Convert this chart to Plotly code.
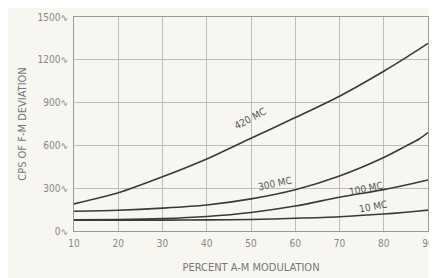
import plotly.graph_objects as go

modulation = [10, 20, 30, 40, 50, 60, 70, 80, 85, 88, 90]
mc420 = [190, 268, 380, 505, 650, 795, 945, 1120, 1215, 1275, 1315]
mc300 = [138, 145, 160, 182, 225, 289, 385, 515, 595, 645, 690]
mc100 = [78, 80, 87, 102, 130, 175, 237, 290, 322, 343, 358]
mc10 = [75, 75, 76, 78, 81, 89, 100, 119, 131, 140, 146]

x_ticks = [10, 20, 30, 40, 50, 60, 70, 80, 90]
y_ticks = [0, 300, 600, 900, 1200, 1500]
y_tick_text = ["0∿", "300∿", "600∿", "900∿", "1200∿", "1500∿"]

labels = [
    ("420 MC", 49.8, 790, -28),
    ("300 MC", 55.4, 330, -12),
    ("100 MC", 76.0, 295, -12),
    ("10 MC", 77.6, 172, -10),
]

FONT = "DejaVu Sans Condensed"
BG = "#f7f6f1"

fig = go.Figure()
for ys in (mc420, mc300, mc100, mc10):
    fig.add_trace(go.Scatter(x=modulation, y=ys, mode="lines",
                             line=dict(color="#3a3a3a", width=1.6, shape="spline", smoothing=0.8),
                             showlegend=False, hoverinfo="skip"))

for text, lx, ly, ang in labels:
    fig.add_annotation(x=lx, y=ly, text=text, showarrow=False, textangle=ang,
                       font=dict(family=FONT, size=10, color="#555555"))

fig.update_layout(
    width=429, height=270,
    margin=dict(l=66, r=9, t=3, b=47),
    paper_bgcolor=BG, plot_bgcolor=BG,
    font=dict(family=FONT, size=9, color="#888888"),
    xaxis=dict(range=[10, 90], tickvals=x_ticks, showgrid=True, gridcolor="#bdbdbd", gridwidth=1,
               zeroline=False, showline=True, linecolor="#9a9a9a", mirror=True,
               ticks="", ticklabelstandoff=3, ticklabeloverflow="allow",
               tickfont=dict(size=10, color="#888888"),
               title=dict(text="PERCENT A-M MODULATION", font=dict(size=11, color="#777777"), standoff=15)),
    yaxis=dict(range=[0, 1500], tickvals=y_ticks, ticktext=y_tick_text, showgrid=True,
               gridcolor="#bdbdbd", gridwidth=1, zeroline=False, showline=True, linecolor="#9a9a9a",
               mirror=True, ticks="", ticklabelstandoff=3, ticklabeloverflow="allow",
               tickfont=dict(size=10, color="#888888"),
               title=dict(text="CPS OF F-M DEVIATION", font=dict(size=11, color="#777777"), standoff=8)),
)

fig.write_html("out.html")
